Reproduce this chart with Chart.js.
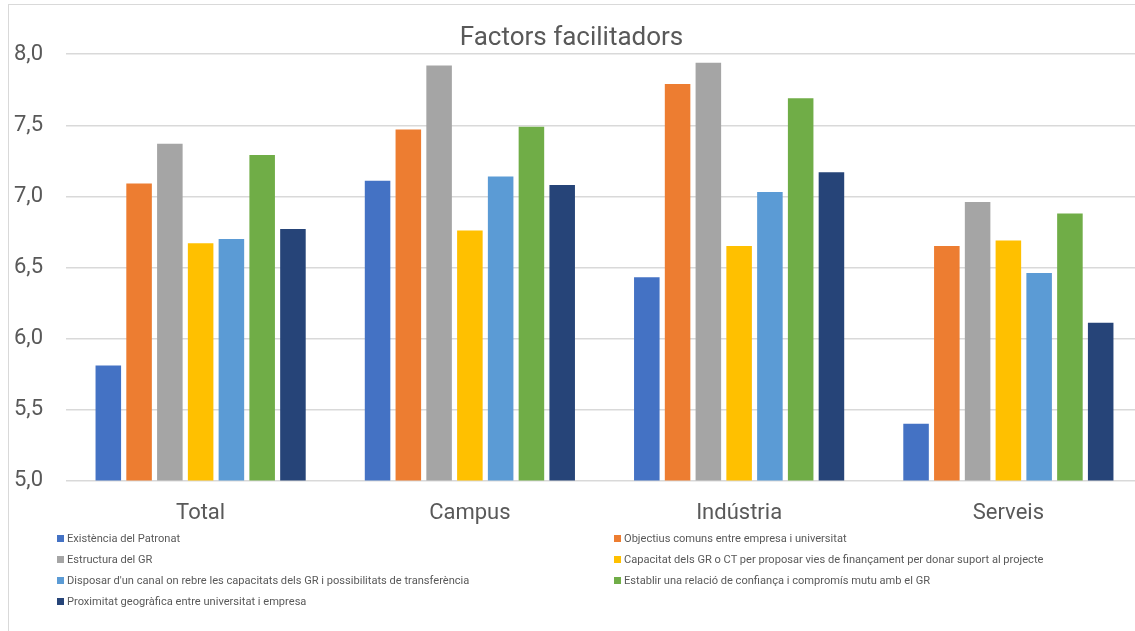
<!DOCTYPE html>
<html>
<head>
<meta charset="utf-8">
<script src="https://cdn.jsdelivr.net/npm/chart.js@4/dist/chart.umd.min.js"></script>
<style>
    body { margin: 0; width: 1135px; height: 631px; overflow: hidden; background: #fff; font-family: Roboto, sans-serif; }
    #frame { position: absolute; left: 8px; top: 4px; width: 1200px; height: 700px; border: 1px solid #D9D9D9; }
    #wrap { position: absolute; left: 0; top: 0; width: 1160px; height: 553px; }
    #legend { position: absolute; left: 57px; top: 528.6px; display: grid; grid-template-columns: 557px auto; grid-auto-rows: 20.7px; }
    .item { display: flex; align-items: center; font-size: 11.1px; color: #595959; white-space: nowrap; }
    .box { width: 7px; height: 7px; margin-right: 3px; flex: none; }
</style>
</head>
<body>
<div id="frame"></div>
<div id="wrap"><canvas id="chart"></canvas></div>
<div id="legend"></div>
<script>
// categories and series
const categories = ['Total', 'Campus', 'Indústria', 'Serveis'];

const seriesNames = [
    'Existència del Patronat',
    'Objectius comuns entre empresa i universitat',
    'Estructura del GR',
    'Capacitat dels GR o CT per proposar vies de finançament per donar suport al projecte',
    "Disposar d'un canal on rebre les capacitats dels GR i possibilitats de transferència",
    'Establir una relació de confiança i compromís mutu amb el GR',
    'Proximitat geogràfica entre universitat i empresa'
];

const patronat = [5.81, 7.11, 6.43, 5.40];
const objectius = [7.09, 7.47, 7.79, 6.65];
const estructura = [7.37, 7.92, 7.94, 6.96];
const capacitat = [6.67, 6.76, 6.65, 6.69];
const canal = [6.70, 7.14, 7.03, 6.46];
const confianca = [7.29, 7.49, 7.69, 6.88];
const proximitat = [6.77, 7.08, 7.17, 6.11];

const yTicks = [5.0, 5.5, 6.0, 6.5, 7.0, 7.5, 8.0];

const colors = ['#4472C4', '#ED7D31', '#A5A5A5', '#FFC000', '#5B9BD5', '#70AD47', '#264478'];
const values = [patronat, objectius, estructura, capacitat, canal, confianca, proximitat];

const textColor = '#595959';

const datasets = seriesNames.map((name, i) => ({
    label: name,
    data: values[i],
    backgroundColor: colors[i],
    borderWidth: 0,
    categoryPercentage: 0.8,
    barPercentage: 0.83
}));

const ctx = document.getElementById('chart').getContext('2d');

const chart = new Chart(ctx, {
    type: 'bar',
    data: {
        labels: categories,
        datasets: datasets
    },
    options: {
        responsive: true,
        maintainAspectRatio: false,
        animation: false,
        layout: {
            padding: { left: 0, right: 17, top: 0, bottom: 6 }
        },
        plugins: {
            legend: { display: false },
            tooltip: { enabled: false },
            title: {
                display: true,
                text: 'Factors facilitadors',
                color: textColor,
                font: { family: 'Roboto', size: 26, weight: 'normal' },
                padding: { top: 23, bottom: 0 }
            }
        },
        scales: {
            y: {
                min: 5,
                max: 8,
                afterBuildTicks: function (scale) {
                    scale.ticks = yTicks.map(v => ({ value: v }));
                },
                afterFit: function (scale) {
                    scale.width = 66;
                },
                ticks: {
                    color: textColor,
                    font: { family: 'Roboto', size: 22 },
                    padding: 23,
                    callback: v => v.toFixed(1).replace('.', ',')
                },
                grid: { color: '#D9D9D9', lineWidth: 1.5, drawTicks: false },
                border: { display: false }
            },
            x: {
                ticks: {
                    color: textColor,
                    font: { family: 'Roboto', size: 22 },
                    padding: 20
                },
                grid: { display: false, drawTicks: false },
                border: { display: false }
            }
        }
    }
});

// legend in two columns, built from the chart datasets
const legendDiv = document.getElementById('legend');
chart.data.datasets.forEach(ds => {
    const item = document.createElement('div');
    item.className = 'item';
    item.innerHTML = `<span class="box" style="background:${ds.backgroundColor}"></span><span>${ds.label}</span>`;
    legendDiv.appendChild(item);
});
</script>
</body>
</html>
